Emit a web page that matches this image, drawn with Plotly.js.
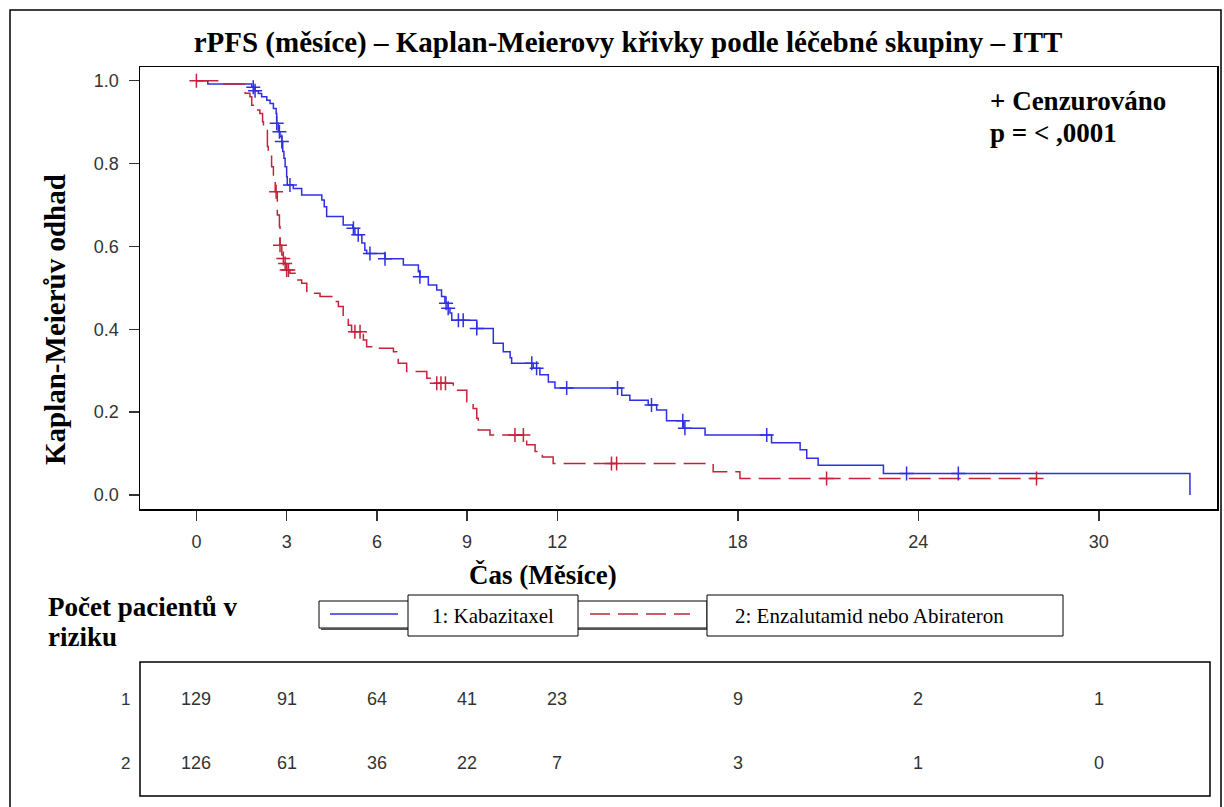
<!DOCTYPE html>
<html><head><meta charset="utf-8">
<script src="https://cdn.plot.ly/plotly-3.0.1.min.js"></script>
<style>body{margin:0;background:#fff}#chart{width:1224px;height:807px}</style>
</head><body><div id="chart"></div>
<script>
// ---- Data ----
const kabT = [0,0.38,1.84,1.95,2.06,2.17,2.34,2.45,2.56,2.65,2.67,2.72,2.78,2.84,2.87,2.91,2.95,3.00,3.02,3.22,3.50,4.17,4.25,4.33,4.88,5.20,5.27,5.50,5.60,5.66,6.27,6.88,7.38,7.43,7.71,7.99,8.15,8.26,8.37,8.43,8.49,9.32,9.87,10.20,10.43,10.48,11.20,11.42,11.70,11.92,14.14,14.41,15.02,15.30,15.63,16.19,16.91,19.12,20.07,20.29,20.67,22.84,33.03];
const kabS = [1.0,0.992,0.984,0.976,0.969,0.961,0.953,0.945,0.933,0.921,0.897,0.877,0.865,0.853,0.829,0.813,0.792,0.768,0.748,0.740,0.724,0.712,0.696,0.672,0.652,0.644,0.628,0.608,0.591,0.583,0.570,0.555,0.539,0.527,0.507,0.495,0.479,0.463,0.451,0.439,0.422,0.402,0.366,0.346,0.331,0.318,0.306,0.290,0.273,0.258,0.241,0.229,0.217,0.205,0.179,0.161,0.145,0.126,0.109,0.089,0.072,0.052,0.0];
const kabCensT = [1.89,1.95,2.67,2.76,2.84,3.11,5.22,5.38,5.77,6.27,7.43,8.30,8.37,8.71,8.87,9.32,11.15,11.31,12.31,14.00,15.13,16.17,16.24,18.96,23.61,25.33];

const enzT = [0,0.85,1.62,1.78,1.84,1.98,2.11,2.20,2.23,2.36,2.39,2.50,2.56,2.62,2.69,2.76,2.78,2.84,2.89,2.95,3.00,3.11,3.33,3.50,3.67,3.89,4.11,4.55,4.72,4.88,5.05,5.16,5.55,5.66,5.88,6.55,6.66,6.71,6.99,7.66,7.77,7.88,8.54,8.99,9.20,9.32,9.37,9.76,10.92,10.98,11.26,11.50,11.86,17.18,18.07,27.93];
const enzS = [1.0,0.992,0.970,0.961,0.941,0.929,0.921,0.901,0.885,0.841,0.825,0.792,0.760,0.732,0.676,0.648,0.603,0.579,0.571,0.559,0.543,0.535,0.519,0.511,0.491,0.487,0.479,0.467,0.455,0.430,0.410,0.394,0.374,0.358,0.354,0.346,0.338,0.318,0.298,0.282,0.278,0.270,0.253,0.225,0.209,0.185,0.157,0.145,0.133,0.121,0.105,0.092,0.076,0.056,0.040,0.040];
const enzCensT = [0,2.65,2.78,2.89,2.95,3.00,3.06,5.27,5.44,7.99,8.13,8.28,10.59,10.87,13.80,13.97,20.95,27.93];

const riskTimes = [0,3,6,9,12,18,24,30];
const riskKab = [129,91,64,41,23,9,2,1];
const riskEnz = [126,61,36,22,7,3,1,0];
const xTicks = [0,3,6,9,12,18,24,30];
const yTicks = [0,0.2,0.4,0.6,0.8,1.0];

const groupNames = ['1: Kabazitaxel','2: Enzalutamid nebo Abirateron'];
const groupIds = ['1','2'];

// ---- helpers ----
function survAt(T,S,t){let v=S[0];for(let i=0;i<T.length;i++){if(T[i]<=t+1e-9)v=S[i];else break;}return v;}
const BLUE='#2f2fe3', RED='#c4233a';
const L=140,R=1217,TOP=67,BOT=509;
const W=R-L,H=BOT-TOP;
const px=x=>(x-L)/W, py=y=>(BOT-y)/H;
const serif='Liberation Serif, Times New Roman, serif';
const sans='Liberation Sans, Arial, sans-serif';

const traces=[
 {x:kabT,y:kabS,mode:'lines',line:{shape:'hv',color:BLUE,width:1.5},hoverinfo:'skip'},
 {x:enzT,y:enzS,mode:'lines',line:{shape:'hv',color:RED,width:1.5,dash:'22px,8px'},hoverinfo:'skip'},
 {x:kabCensT,y:kabCensT.map(t=>survAt(kabT,kabS,t)),mode:'markers',marker:{symbol:'cross-thin-open',size:10,color:BLUE,line:{color:BLUE,width:1.5}},hoverinfo:'skip'},
 {x:enzCensT,y:enzCensT.map(t=>survAt(enzT,enzS,t)),mode:'markers',marker:{symbol:'cross-thin-open',size:10,color:RED,line:{color:RED,width:1.5}},hoverinfo:'skip'}
];

const shapes=[
 {type:'rect',xref:'paper',yref:'paper',x0:px(10),x1:px(1221),y0:py(10),y1:py(830),line:{color:'#000',width:1.5}},
 {type:'rect',xref:'paper',yref:'paper',x0:px(319),x1:px(707),y0:py(601),y1:py(628),line:{color:'#000',width:1}},
 {type:'line',xref:'paper',yref:'paper',x0:px(321),x1:px(707),y0:py(629),y1:py(629),line:{color:'#555',width:2}},
 {type:'rect',xref:'paper',yref:'paper',x0:px(408),x1:px(578),y0:py(595),y1:py(636),fillcolor:'#fff',line:{color:'#000',width:1}},
 {type:'rect',xref:'paper',yref:'paper',x0:px(707),x1:px(1063),y0:py(595),y1:py(636),fillcolor:'#fff',line:{color:'#000',width:1}},
 {type:'line',xref:'paper',yref:'paper',x0:px(330),x1:px(398),y0:py(614),y1:py(614),line:{color:BLUE,width:1.5}},
 {type:'line',xref:'paper',yref:'paper',x0:px(590),x1:px(690),y0:py(614),y1:py(614),line:{color:RED,width:1.5,dash:'20px,8px'}},
 {type:'rect',xref:'paper',yref:'paper',x0:px(140),x1:px(1210),y0:py(662),y1:py(796),line:{color:'#000',width:1.5}}
];

const bold=(t)=>'<b>'+t+'</b>';
const ann=[
 {text:bold('+ Cenzurováno'),x:px(988),y:py(101),xanchor:'left',yanchor:'middle',font:{family:serif,size:27,color:'#000'}},
 {text:bold('p = < ,0001'),x:px(988),y:py(133),xanchor:'left',yanchor:'middle',font:{family:serif,size:27,color:'#000'}},
 {text:bold('Počet pacientů v'),x:px(46),y:py(607),xanchor:'left',yanchor:'middle',font:{family:serif,size:27,color:'#000'}},
 {text:bold('riziku'),x:px(46),y:py(637),xanchor:'left',yanchor:'middle',font:{family:serif,size:27,color:'#000'}},
 {text:groupNames[0],x:px(430),y:py(616),xanchor:'left',yanchor:'middle',font:{family:serif,size:21,color:'#000'}},
 {text:groupNames[1],x:px(733),y:py(616),xanchor:'left',yanchor:'middle',font:{family:serif,size:21,color:'#000'}},
 {text:bold('Kaplan-Meierův odhad'),x:px(55),y:py(320),textangle:-90,xanchor:'center',yanchor:'middle',font:{family:serif,size:29,color:'#000'}},
 {text:bold('Čas (Měsíce)'),x:px(543),y:py(575),xanchor:'center',yanchor:'middle',font:{family:serif,size:27,color:'#000'}},
 {text:groupIds[0],x:px(132),y:py(699),xanchor:'right',yanchor:'middle',font:{family:sans,size:17,color:'#333'}},
 {text:groupIds[1],x:px(132),y:py(763),xanchor:'right',yanchor:'middle',font:{family:sans,size:17,color:'#333'}}
];
riskTimes.forEach((t,i)=>{
 ann.push({text:String(riskKab[i]),xref:'x',yref:'paper',x:t,y:py(699),xanchor:'center',yanchor:'middle',font:{family:sans,size:18,color:'#333'}});
 ann.push({text:String(riskEnz[i]),xref:'x',yref:'paper',x:t,y:py(763),xanchor:'center',yanchor:'middle',font:{family:sans,size:18,color:'#333'}});
});
ann.forEach(a=>{if(!a.xref)a.xref='paper';if(!a.yref)a.yref='paper';a.showarrow=false;});

const x0=-(196.4-L)/30.08;
const layout={
 width:1224,height:807,
 margin:{l:L,r:1224-R,t:TOP,b:807-BOT},
 paper_bgcolor:'#fff',plot_bgcolor:'#fff',
 showlegend:false,
 title:{text:bold('rPFS (měsíce) – Kaplan-Meierovy křivky podle léčebné skupiny – ITT'),x:628/1224,xanchor:'center',y:1-42/807,yanchor:'middle',xref:'container',yref:'container',font:{family:serif,size:29,color:'#000'}},
 xaxis:{range:[x0,x0+W/30.08],tickvals:xTicks,ticktext:xTicks.map(String),ticks:'outside',ticklen:10,tickwidth:1.5,tickcolor:'#333',showline:true,linecolor:'#000',linewidth:1.5,mirror:true,showgrid:false,zeroline:false,tickfont:{family:sans,size:18,color:'#333'},ticklabelstandoff:6},
 yaxis:{range:[-14/414.3,1+13.7/414.3],tickvals:yTicks,ticktext:yTicks.map(v=>v.toFixed(1)),ticks:'outside',ticklen:10,tickwidth:1.5,tickcolor:'#333',showline:true,linecolor:'#000',linewidth:1.5,mirror:true,showgrid:false,zeroline:false,tickfont:{family:sans,size:18,color:'#333'},ticklabelstandoff:6},
 shapes:shapes,annotations:ann
};
Plotly.newPlot('chart',traces,layout,{staticPlot:true,displayModeBar:false});
</script></body></html>
